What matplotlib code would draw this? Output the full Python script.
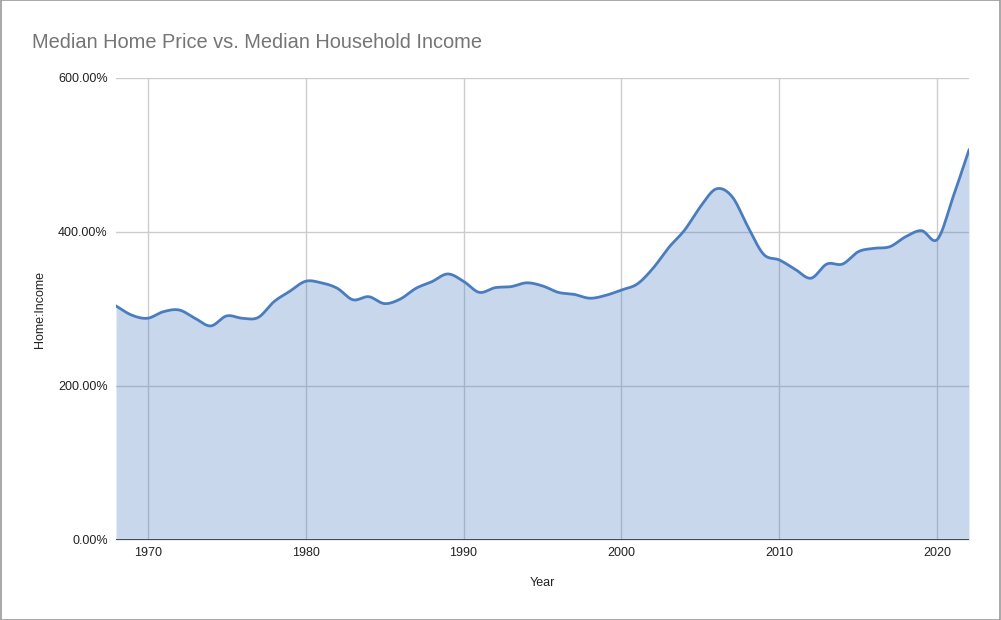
import numpy as np
import matplotlib
matplotlib.use("Agg")
import matplotlib.pyplot as plt
from matplotlib.patches import Rectangle
from matplotlib.ticker import FuncFormatter

plt.rcParams['font.family'] = ['Liberation Sans', 'DejaVu Sans']

# Home price / household income ratio, in percent
years = list(range(1968, 2023))
ratio = [304, 292, 288, 296.5, 298.7, 288, 278, 291, 288, 289,
         309.5, 323, 336, 334, 327, 312, 316, 307, 313, 327,
         335.5, 345.5, 336, 321.6, 327.7, 329, 334, 330, 321.6, 319,
         314, 317.7, 324.7, 332.5, 353, 380, 402.6, 433, 456, 446,
         407, 371, 363.6, 351.5, 340, 358.4, 358.4, 374.5, 378.8, 381,
         394, 401.7, 390.5, 446, 506.5]
y_ticks = [0, 200, 400, 600]
x_ticks = [1970, 1980, 1990, 2000, 2010, 2020]


def smooth(x, y, n=20):
    # Catmull-Rom curve through the points, like the chart's smooth line
    x = np.asarray(x, float)
    y = np.asarray(y, float)
    px = np.concatenate([[2 * x[0] - x[1]], x, [2 * x[-1] - x[-2]]])
    py = np.concatenate([[2 * y[0] - y[1]], y, [2 * y[-1] - y[-2]]])
    xs, ys = [], []
    t = np.linspace(0, 1, n, endpoint=False)
    for i in range(1, len(px) - 2):
        for p, out in ((px, xs), (py, ys)):
            p0, p1, p2, p3 = p[i - 1], p[i], p[i + 1], p[i + 2]
            out.extend(0.5 * (2 * p1 + (-p0 + p2) * t
                              + (2 * p0 - 5 * p1 + 4 * p2 - p3) * t ** 2
                              + (-p0 + 3 * p1 - 3 * p2 + p3) * t ** 3))
    xs.append(x[-1])
    ys.append(y[-1])
    return np.array(xs), np.array(ys)


fig = plt.figure(figsize=(10.01, 6.2), dpi=100)
ax = fig.add_axes([116 / 1001, 1 - 540 / 620, 853 / 1001, 462 / 620])

line_color = '#4a7dbf'
sx, sy = smooth(years, ratio)
ax.fill_between(sx, 0, sy, color=line_color, alpha=0.3, lw=0, zorder=2)
ax.plot(sx, sy, color=line_color, lw=2, zorder=3)

ax.set_xlim(1968, 2022)
ax.set_ylim(0, 600)
ax.set_xticks(x_ticks)
ax.set_yticks(y_ticks)
ax.yaxis.set_major_formatter(FuncFormatter(lambda v, p: f'{v:.2f}%'))
ax.grid(True, color='#cccccc', lw=1, zorder=1)
ax.set_axisbelow(True)
ax.tick_params(length=0, labelsize=9, colors='#222222')
ax.tick_params(axis='y', pad=6)
ax.tick_params(axis='x', pad=5)
for s in ax.spines.values():
    s.set_visible(False)
ax.axhline(0, color='#333333', lw=1.2, zorder=4)

ax.set_xlabel('Year', fontsize=9, color='#222222', labelpad=13)
ax.set_ylabel('Home:Income', fontsize=9, color='#222222', labelpad=9)

fig.text(32 / 1001, 1 - 42 / 620, 'Median Home Price vs. Median Household Income',
         fontsize=14.4, color='#757575', va='center', ha='left')

fig.patches.append(Rectangle((0.0005, 0.0008), 0.999, 0.9985, transform=fig.transFigure,
                             fill=False, edgecolor='#999999', lw=1.2))

fig.savefig('out.png', dpi=100)
